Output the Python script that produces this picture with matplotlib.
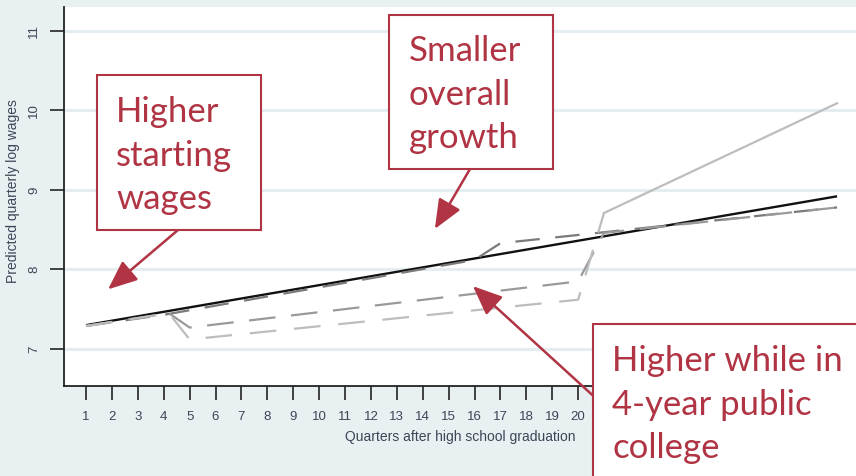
import matplotlib
matplotlib.use("Agg")
import matplotlib.pyplot as plt
from matplotlib.patches import Rectangle

# quarters after high school graduation and predicted log wages (break points of each line)
black_q = [1, 30]
black_y = [7.30, 8.92]

dark_q = [1, 4, 16, 17, 30]
dark_y = [7.29, 7.43, 8.12, 8.33, 8.78]

mid_q = [1, 4, 4.2, 5, 20, 21, 30]
mid_y = [7.29, 7.44, 7.45, 7.27, 7.85, 8.46, 8.78]

light_q = [1, 4, 4.2, 5, 20, 21, 30]
light_y = [7.29, 7.44, 7.45, 7.12, 7.62, 8.71, 10.09]

xticks = list(range(1, 31))
yticks = [7, 8, 9, 10, 11]

notes = ["Higher\nstarting\nwages", "Smaller\noverall\ngrowth", "Higher while in\n4-year public\ncollege"]

W, H = 856, 476
RED = "#b03443"
BG = "#e8f0f2"
AXCOL = "#3b4656"


def fx(x, y):
    # pixel position -> figure fraction
    return (x / W, 1 - y / H)


fig = plt.figure(figsize=(W / 100, H / 100), dpi=100)
fig.patch.set_facecolor(BG)
ax = fig.add_axes([64 / W, 1 - 386 / H, 1 - 64 / W, (386 - 7) / H])
ax.set_facecolor("white")

ax.plot(black_q, black_y, color="#111111", lw=1.7, solid_capstyle="butt", zorder=3)
ax.plot(dark_q, dark_y, color="#7a7a7a", lw=1.6, linestyle=(0, (11, 7)), zorder=4)
ax.plot(mid_q, mid_y, color="#9a9a9a", lw=1.6, linestyle=(0, (12, 7)), zorder=4)
ax.plot(light_q[:6], light_y[:6], color="#bdbdbd", lw=1.6, linestyle=(0, (12, 8)), zorder=4)
ax.plot(light_q[5:], light_y[5:], color="#bdbdbd", lw=1.6, zorder=4)

ax.set_xlim(0.15, 30.73)
ax.set_ylim(6.535, 11.30)
ax.set_xticks(xticks[:20])
ax.set_yticks(yticks)
ax.set_yticklabels([str(v) for v in yticks], rotation=90, va="center")
ax.grid(axis="y", color="#e4edf1", lw=2.2)
ax.set_axisbelow(True)

for s in ["top", "right"]:
    ax.spines[s].set_visible(False)
for s in ["left", "bottom"]:
    ax.spines[s].set_color("#222222")
    ax.spines[s].set_linewidth(1.3)

for lab in ax.get_xticklabels() + ax.get_yticklabels():
    lab.set_family("Liberation Sans")
ax.tick_params(axis="both", length=10, width=1.3, color="#333333",
               labelsize=9.5, labelcolor=AXCOL)
ax.tick_params(axis="x", pad=8)
ax.tick_params(axis="y", pad=7)
ax.set_xlabel("Quarters after high school graduation", fontsize=10, color=AXCOL,
              family="Liberation Sans")
ax.xaxis.set_label_coords(0.5, -0.117)
ax.set_ylabel("Predicted quarterly log wages", fontsize=10, color=AXCOL,
              family="Liberation Sans")
ax.yaxis.set_label_coords(-0.056, 0.515)

# call-out boxes (left, top, right, bottom in pixels) and arrows
boxes = [(97, 75, 261, 230), (389, 15, 553, 169), (593, 324, 870, 490)]
text_pos = [(116, 96), (409, 35), (612, 345)]
arrow_from = [(178, 230), (470, 169), (600, 402)]
arrow_to = [(1.85, 7.75), (14.47, 8.51), (15.94, 7.79)]

for (l, t, r, b), (tx, ty), note, src, dst in zip(boxes, text_pos, notes, arrow_from, arrow_to):
    ax.annotate("", xy=dst, xycoords="data", xytext=fx(*src), textcoords="figure fraction",
                arrowprops=dict(arrowstyle="-|>,head_length=0.9,head_width=0.38",
                                color=RED, lw=1.8, mutation_scale=20, shrinkA=0, shrinkB=0),
                annotation_clip=False, zorder=6)
    x0, y0 = fx(l, b)
    rect = Rectangle((x0, y0), (r - l) / W, (b - t) / H, transform=fig.transFigure,
                     facecolor="white", edgecolor=RED, lw=1.5, zorder=5)
    fig.patches.append(rect)
    fig.text(*fx(tx, ty), note, color=RED, fontsize=25, family="Lato",
             ha="left", va="top", linespacing=1.45, zorder=6)

fig.savefig("out.png", dpi=100, facecolor=BG)
